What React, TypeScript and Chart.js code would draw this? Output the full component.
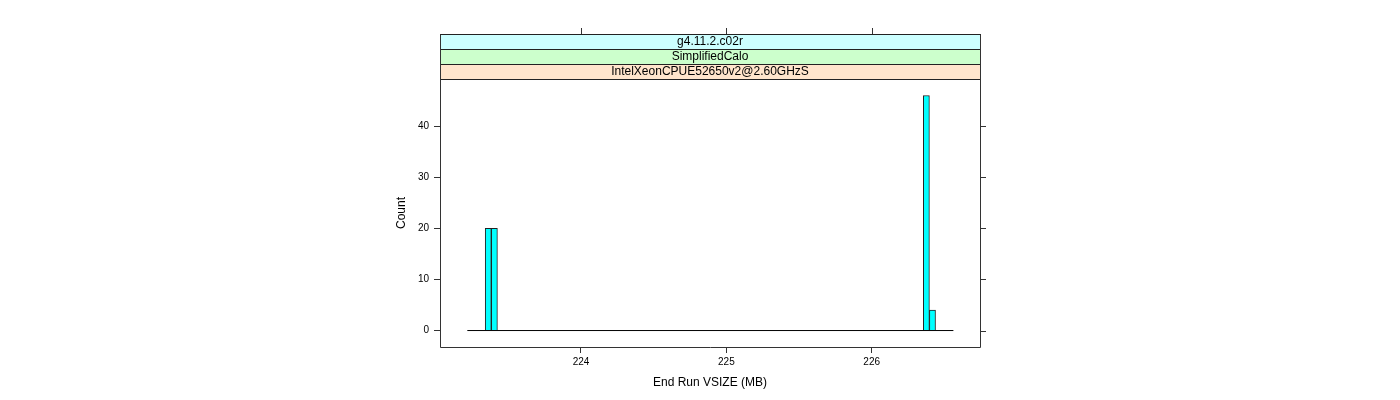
import React, { useEffect, useRef } from "react";
import { Chart, registerables } from "chart.js";

Chart.register(...registerables);

// ---- data ----
const binCenters = [223.362, 223.404, 226.376, 226.418];
const binCounts = [20, 20, 46, 4];
const baselineRange = [223.218, 226.562];
const xTicks = [224, 225, 226];
const yTicks = [0, 10, 20, 30, 40];
const xRange = [223.03, 226.745];
const yRange = [-3.22, 49.22];
const stripLabels = ["g4.11.2.c02r", "SimplifiedCalo", "IntelXeonCPUE52650v2@2.60GHzS"];
const stripColors = ["#ccffff", "#ccffcc", "#ffe5cc"];
const xTitle = "End Run VSIZE (MB)";
const yTitle = "Count";

const FONT = "'Liberation Sans', Arial, Helvetica, sans-serif";
const LINE = "#333333";

const latticePlugin = {
  id: "latticeFrame",
  afterDraw(chart: any) {
    const { ctx, chartArea } = chart;
    const { left, right, top, bottom } = chartArea;
    const xs = chart.scales.x;
    const ys = chart.scales.y;
    ctx.save();
    // strips
    const stripH = 15;
    ctx.font = `12px ${FONT}`;
    ctx.textAlign = "center";
    ctx.textBaseline = "middle";
    for (let i = 0; i < stripLabels.length; i++) {
      const y0 = top - stripH * (stripLabels.length - i);
      ctx.fillStyle = stripColors[i];
      ctx.fillRect(left, y0, right - left, stripH);
      ctx.strokeStyle = "#222";
      ctx.lineWidth = 1;
      ctx.strokeRect(left + 0.5, y0 + 0.5, right - left, stripH);
      ctx.fillStyle = "#000";
      ctx.fillText(stripLabels[i], (left + right) / 2, y0 + stripH / 2 + 0.5);
    }
    const stripTop = top - stripH * stripLabels.length;
    // panel box
    ctx.strokeStyle = LINE;
    ctx.lineWidth = 1;
    ctx.beginPath();
    ctx.moveTo(left + 0.5, stripTop + 0.5);
    ctx.lineTo(left + 0.5, bottom + 0.5);
    ctx.lineTo(right + 0.5, bottom + 0.5);
    ctx.lineTo(right + 0.5, stripTop + 0.5);
    ctx.stroke();
    // top ticks
    ctx.beginPath();
    for (const v of xTicks) {
      const px = Math.round(xs.getPixelForValue(v)) + 0.5;
      ctx.moveTo(px, stripTop);
      ctx.lineTo(px, stripTop - 6);
    }
    // right ticks
    for (const v of yTicks) {
      const py = Math.round(ys.getPixelForValue(v)) + 0.5;
      ctx.moveTo(right, py);
      ctx.lineTo(right + 6, py);
    }
    ctx.stroke();
    ctx.restore();
  },
};

export default function App() {
  const ref = useRef<HTMLCanvasElement | null>(null);
  useEffect(() => {
    if (!ref.current) return;
    const chart = new Chart(ref.current, {
      type: "bar",
      data: {
        datasets: [
          {
            type: "bar",
            data: binCenters.map((x, i) => ({ x, y: binCounts[i] })),
            backgroundColor: "#00ffff",
            borderColor: "#222222",
            borderWidth: 1,
            borderSkipped: "start",
            barPercentage: 1,
            categoryPercentage: 1,
            order: 1,
          } as any,
          {
            type: "line",
            data: baselineRange.map((x) => ({ x, y: 0 })),
            borderColor: "#000000",
            borderWidth: 1,
            pointRadius: 0,
            order: 2,
          } as any,
        ],
      },
      options: {
        responsive: false,
        animation: false,
        layout: { padding: { left: 380, right: 420, top: 79, bottom: 0 } },
        plugins: { legend: { display: false }, tooltip: { enabled: false } },
        scales: {
          x: {
            type: "linear",
            min: xRange[0],
            max: xRange[1],
            offset: false,
            afterBuildTicks: (s: any) => {
              s.ticks = xTicks.map((value) => ({ value }));
            },
            afterFit: (s: any) => {
              s.height = 53;
            },
            grid: { offset: false, drawOnChartArea: false, drawTicks: true, tickLength: 6, color: LINE },
            border: { display: false },
            ticks: {
              color: "#000",
              font: { family: FONT, size: 10 },
              padding: 3,
              maxRotation: 0,
              callback: (v: any) => String(v),
            },
            title: {
              display: true,
              text: xTitle,
              color: "#000",
              font: { family: FONT, size: 12 },
              padding: { top: 0, bottom: 10 },
            },
          },
          y: {
            type: "linear",
            min: yRange[0],
            max: yRange[1],
            afterBuildTicks: (s: any) => {
              s.ticks = yTicks.map((value) => ({ value }));
            },
            afterFit: (s: any) => {
              s.width = 60;
            },
            grid: { offset: false, drawOnChartArea: false, drawTicks: true, tickLength: 6, color: LINE },
            border: { display: false },
            ticks: {
              color: "#000",
              font: { family: FONT, size: 10 },
              padding: 5,
              callback: (v: any) => String(v),
            },
            title: {
              display: true,
              text: yTitle,
              color: "#000",
              font: { family: FONT, size: 12 },
              padding: { top: 14, bottom: 0 },
            },
          },
        },
      },
      plugins: [latticePlugin],
    });
    return () => chart.destroy();
  }, []);
  return (
    <canvas
      ref={ref}
      width={1400}
      height={400}
      style={{ position: "absolute", left: 0, top: 0, width: 1400, height: 400, background: "#fff" }}
    />
  );
}
